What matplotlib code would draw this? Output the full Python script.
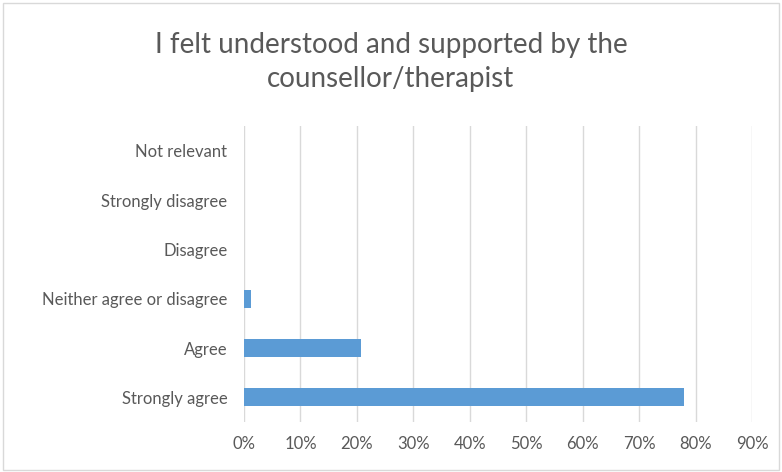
import matplotlib.pyplot as plt
from matplotlib.patches import Rectangle
from matplotlib.ticker import PercentFormatter

# Survey responses (share of respondents, %)
categories = ['Strongly agree', 'Agree', 'Neither agree or disagree',
              'Disagree', 'Strongly disagree', 'Not relevant']
shares = [78.0, 20.8, 1.2, 0.0, 0.0, 0.0]
x_ticks = [0, 10, 20, 30, 40, 50, 60, 70, 80, 90]

plt.rcParams['font.family'] = ['Lato', 'DejaVu Sans']
text_grey = '#595959'

fig = plt.figure(figsize=(7.82, 4.72), dpi=100)
ax = fig.add_axes([244 / 782, 1 - 422 / 472, (752 - 244) / 782, (422 - 126) / 472])

ax.barh(range(len(categories)), shares, height=0.36, color='#5b9bd5')

ax.set_xlim(0, 90)
ax.set_ylim(-0.5, len(categories) - 0.5)
ax.set_xticks(x_ticks)
ax.xaxis.set_major_formatter(PercentFormatter(decimals=0))
ax.set_yticks(range(len(categories)))
ax.set_yticklabels(categories)
ax.tick_params(axis='both', length=0, labelsize=12, colors=text_grey)
ax.tick_params(axis='x', pad=10)
ax.tick_params(axis='y', pad=12)
ax.grid(axis='x', color='#d9d9d9', linewidth=1)
ax.set_axisbelow(True)
for s in ax.spines.values():
    s.set_visible(False)

fig.text(0.5, 1 - 45 / 472, 'I felt understood and supported by the',
         ha='center', va='center', fontsize=20, color=text_grey)
fig.text(0.5, 1 - 79 / 472, 'counsellor/therapist',
         ha='center', va='center', fontsize=20, color=text_grey)

# chart frame
fig.patches.append(Rectangle((0.004, 0.004), 0.992, 0.99, transform=fig.transFigure,
                             fill=False, edgecolor='#d9d9d9', linewidth=1))

fig.savefig('out.png', dpi=100)
